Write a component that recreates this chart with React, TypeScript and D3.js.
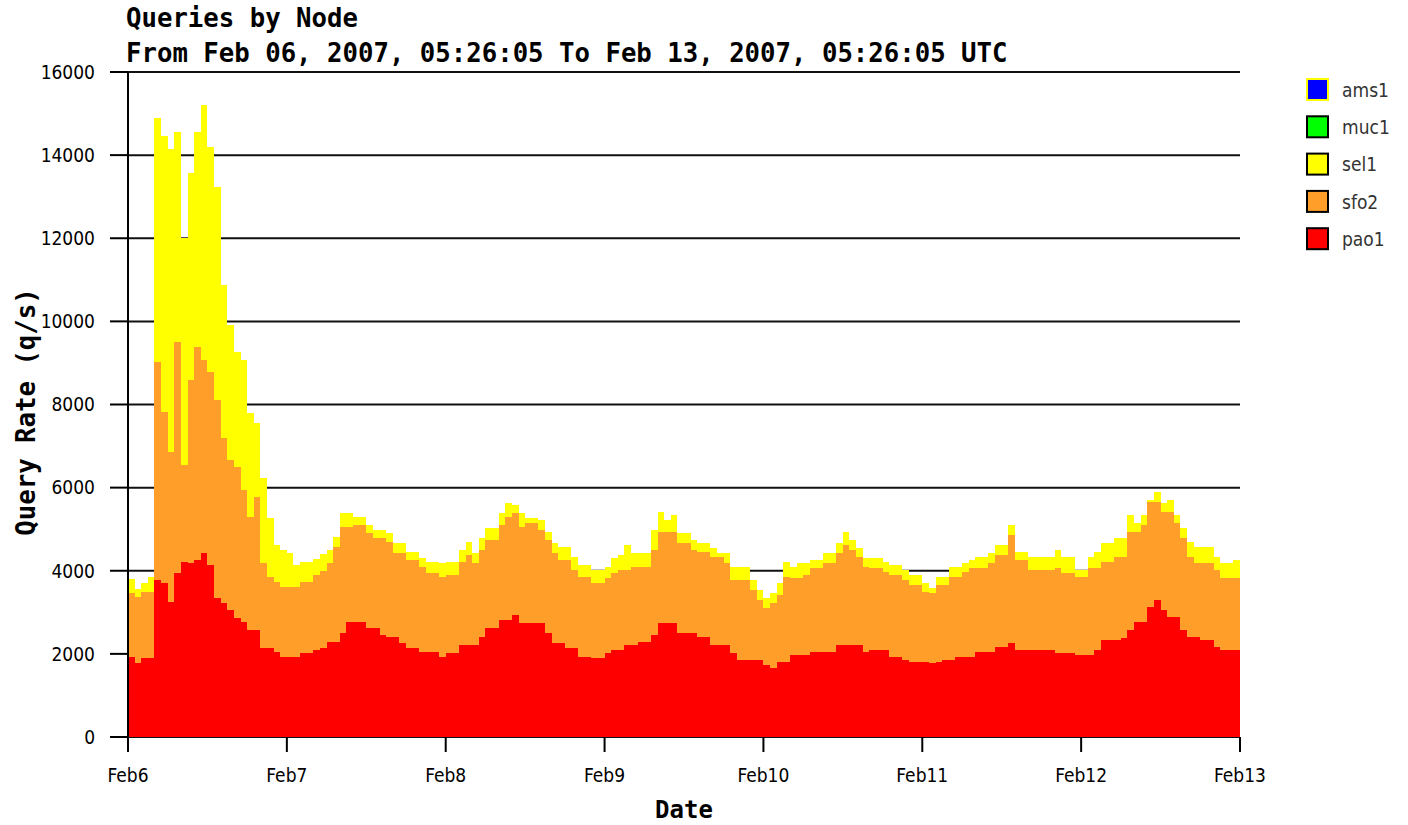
import React, { useEffect, useRef } from "react";
import * as d3 from "d3";

// legend entries (top to bottom)
const nodes = ["ams1", "muc1", "sel1", "sfo2", "pao1"];
const nodeFill = ["#0000ff", "#00ff00", "#ffff00", "#ff9f29", "#ff0000"];
const nodeBorder = ["#ffff00", "#000000", "#000000", "#000000", "#000000"];

// hourly query rates (q/s), Feb 6 00:00 -> Feb 13 00:00 UTC
const pao1 = [
  1920, 1780, 1900, 1900, 3780, 3700, 3250, 3950, 4210, 4180, 4260, 4430, 4140, 3340, 3220, 3060, 2860, 2770, 2570, 2570, 2140, 2140, 2050, 1920,
  1920, 1920, 2020, 2020, 2090, 2150, 2290, 2290, 2500, 2770, 2770, 2770, 2620, 2620, 2450, 2400, 2400, 2260, 2140, 2140, 2050, 2050, 2050, 1920,
  2020, 2020, 2210, 2210, 2210, 2400, 2620, 2620, 2820, 2820, 2930, 2740, 2740, 2740, 2740, 2500, 2260, 2260, 2140, 2140, 1920, 1920, 1900, 1900,
  2020, 2090, 2090, 2210, 2210, 2290, 2290, 2450, 2740, 2740, 2740, 2500, 2500, 2500, 2400, 2400, 2210, 2210, 2210, 2020, 1850, 1850, 1850, 1850,
  1730, 1660, 1800, 1800, 1970, 1970, 1970, 2050, 2050, 2050, 2050, 2210, 2210, 2210, 2210, 2050, 2090, 2090, 2090, 1920, 1920, 1850, 1800, 1800,
  1800, 1780, 1800, 1850, 1850, 1920, 1920, 1920, 2050, 2050, 2050, 2170, 2170, 2260, 2090, 2090, 2090, 2090, 2090, 2090, 2020, 2020, 2020, 1970,
  1970, 1970, 2090, 2330, 2330, 2330, 2380, 2570, 2770, 2770, 3130, 3300, 3060, 2890, 2890, 2570, 2400, 2400, 2330, 2330, 2170, 2090, 2090, 2090,
];
const sfo2 = [
  1540, 1590, 1590, 1600, 5240, 4120, 3610, 5550, 2330, 4410, 5120, 4640, 4640, 4770, 3970, 3600, 3640, 3170, 2720, 3200, 2040, 1710, 1680, 1690,
  1690, 1690, 1710, 1710, 1810, 1850, 1890, 2280, 2550, 2280, 2330, 2330, 2280, 2170, 2340, 2290, 2030, 2170, 2120, 2120, 2040, 1900, 1900, 1930,
  1880, 1880, 1990, 2170, 1970, 2100, 2120, 2120, 2280, 2470, 2460, 2310, 2410, 2410, 2240, 2240, 2170, 2000, 2120, 1880, 1930, 1930, 1800, 1800,
  1810, 1860, 1930, 1810, 1880, 1800, 1800, 2050, 2190, 2190, 2190, 2170, 2170, 2000, 2050, 2050, 2120, 2120, 1970, 1760, 1930, 1930, 1690, 1450,
  1370, 1560, 1620, 2050, 1860, 1860, 1930, 2010, 2010, 2130, 2130, 2220, 2410, 2290, 2120, 2040, 1970, 1970, 1880, 1980, 1980, 1930, 1860, 1860,
  1690, 1680, 1860, 1810, 2000, 1930, 2050, 2140, 2010, 2010, 2130, 2210, 2210, 2600, 2170, 2170, 1930, 1930, 1930, 1930, 2040, 1930, 1930, 1880,
  1880, 2090, 1970, 1880, 1880, 2000, 1950, 2360, 2160, 2330, 2520, 2350, 2350, 2520, 2260, 2220, 1930, 1780, 1850, 1850, 1850, 1740, 1740, 1740,
];
const sel1 = [
  340, 180, 210, 350, 5870, 6640, 7290, 5060, 5460, 4980, 5180, 6130, 5420, 5120, 3680, 3250, 2760, 3130, 2510, 1780, 2050, 1420, 890, 890,
  820, 540, 470, 470, 380, 400, 320, 240, 330, 330, 200, 200, 200, 190, 190, 210, 240, 240, 190, 190, 210, 250, 250, 330,
  300, 300, 300, 320, 250, 290, 290, 290, 290, 340, 190, 340, 120, 120, 240, 190, 240, 310, 310, 310, 290, 290, 320, 320,
  260, 350, 360, 600, 340, 340, 340, 480, 480, 290, 410, 230, 230, 240, 220, 220, 220, 100, 250, 310, 310, 310, 240, 240,
  240, 240, 280, 360, 260, 350, 280, 200, 200, 250, 250, 240, 310, 240, 220, 210, 240, 240, 240, 240, 240, 240, 240, 240,
  210, 120, 190, 190, 240, 240, 210, 200, 270, 270, 250, 240, 240, 240, 190, 190, 310, 310, 310, 310, 440, 380, 380, 170,
  170, 270, 390, 460, 460, 460, 460, 410, 220, 240, 50, 250, 220, 290, 190, 240, 370, 390, 390, 390, 310, 350, 350, 430,
];

const yTicks = [0, 2000, 4000, 6000, 8000, 10000, 12000, 14000, 16000];

const monoBold = "'DejaVu Sans Mono', 'Liberation Mono', monospace";
const narrow = "'Liberation Sans Narrow', 'DejaVu Sans Condensed', 'Liberation Sans', sans-serif";

export default function App() {
  const ref = useRef<SVGSVGElement>(null);

  useEffect(() => {
    const svg = d3.select(ref.current);
    svg.selectAll("*").remove();

    const left = 128, right = 1240, top = 72, bottom = 737;
    const start = new Date(Date.UTC(2007, 1, 6));
    const end = new Date(Date.UTC(2007, 1, 13));

    const x = d3.scaleUtc().domain([start, end]).range([left, right]);
    const y = d3.scaleLinear().domain([0, 16000]).range([bottom, top]);

    const hours = pao1.map((_, i) => d3.utcHour.offset(start, i));
    const rows = hours.map((t, i) => ({ t, pao1: pao1[i], sfo2: sfo2[i], sel1: sel1[i] }));
    const keys = ["pao1", "sfo2", "sel1"];
    const colors: Record<string, string> = { pao1: "#ff0000", sfo2: "#ff9f29", sel1: "#ffff00" };
    const layers = d3.stack<any>().keys(keys)(rows);

    // grid lines behind the data
    svg.append("g")
      .selectAll("line")
      .data(yTicks)
      .join("line")
      .attr("x1", left)
      .attr("x2", right)
      .attr("y1", d => y(d))
      .attr("y2", d => y(d))
      .attr("stroke", "#111")
      .attr("stroke-width", 2);

    // stacked step areas
    const area = d3.area<any>()
      .curve(d3.curveStepAfter)
      .x(d => x(d.t))
      .y0(d => y(d.y0))
      .y1(d => y(d.y1));

    layers.forEach(layer => {
      const pts = layer.map((d, i) => ({ t: hours[i], y0: d[0], y1: d[1] }));
      const last = pts[pts.length - 1];
      pts.push({ t: end, y0: last.y0, y1: last.y1 });
      svg.append("path")
        .attr("d", area(pts) as string)
        .attr("fill", colors[layer.key])
        .attr("shape-rendering", "crispEdges");
    });

    // y axis
    svg.append("line")
      .attr("x1", left).attr("x2", left)
      .attr("y1", top).attr("y2", bottom + 15)
      .attr("stroke", "#000").attr("stroke-width", 2);

    const yg = svg.append("g");
    yg.selectAll("line")
      .data(yTicks)
      .join("line")
      .attr("x1", 110).attr("x2", left)
      .attr("y1", d => y(d)).attr("y2", d => y(d))
      .attr("stroke", "#000").attr("stroke-width", 2);
    yg.selectAll("text")
      .data(yTicks)
      .join("text")
      .attr("x", 95)
      .attr("y", d => y(d))
      .attr("dy", "0.36em")
      .attr("text-anchor", "end")
      .attr("font-family", narrow)
      .attr("font-size", 19)
      .attr("fill", "#000")
      .text(d => String(d));

    // x axis ticks
    const days = x.ticks(d3.utcDay.every(1)!);
    const xg = svg.append("g");
    xg.selectAll("line")
      .data(days)
      .join("line")
      .attr("x1", d => x(d)).attr("x2", d => x(d))
      .attr("y1", bottom).attr("y2", bottom + 15)
      .attr("stroke", "#000").attr("stroke-width", 2);
    xg.selectAll("text")
      .data(days)
      .join("text")
      .attr("x", d => x(d))
      .attr("y", 782)
      .attr("text-anchor", "middle")
      .attr("font-family", narrow)
      .attr("font-size", 19)
      .attr("fill", "#000")
      .text(d => d3.utcFormat("%b%-d")(d));

    // titles
    svg.append("text")
      .attr("x", 126).attr("y", 27)
      .attr("font-family", monoBold).attr("font-weight", "bold").attr("font-size", 25.7)
      .text("Queries by Node");
    svg.append("text")
      .attr("x", 126).attr("y", 62)
      .attr("font-family", monoBold).attr("font-weight", "bold").attr("font-size", 25.7)
      .text("From Feb 06, 2007, 05:26:05 To Feb 13, 2007, 05:26:05 UTC");
    svg.append("text")
      .attr("x", 684).attr("y", 818)
      .attr("text-anchor", "middle")
      .attr("font-family", monoBold).attr("font-weight", "bold").attr("font-size", 24)
      .text("Date");
    svg.append("text")
      .attr("transform", "translate(35,412) rotate(-90)")
      .attr("text-anchor", "middle")
      .attr("font-family", monoBold).attr("font-weight", "bold").attr("font-size", 25.7)
      .text("Query Rate (q/s)");

    // legend
    const lg = svg.append("g");
    nodes.forEach((n, i) => {
      const ly = 79 + i * 37.3;
      lg.append("rect")
        .attr("x", 1307).attr("y", ly)
        .attr("width", 21).attr("height", 21)
        .attr("fill", nodeFill[i])
        .attr("stroke", nodeBorder[i]).attr("stroke-width", 2);
      lg.append("text")
        .attr("x", 1342).attr("y", ly + 11)
        .attr("dy", "0.36em")
        .attr("font-family", narrow)
        .attr("font-size", 19)
        .attr("fill", "#333")
        .text(n);
    });
  }, []);

  return (
    <svg
      ref={ref}
      width={1408}
      height={825}
      style={{ position: "absolute", left: 0, top: 0, background: "#fff" }}
    />
  );
}
